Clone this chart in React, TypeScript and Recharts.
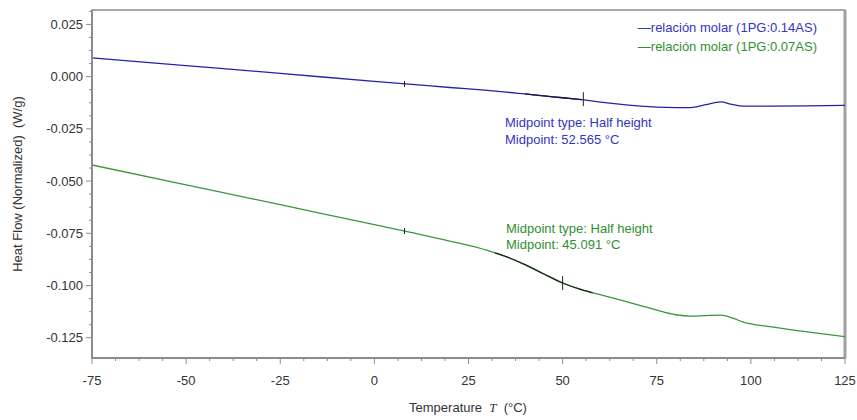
import React from "react";
import {
  ComposedChart,
  Line,
  Scatter,
  XAxis,
  YAxis,
  ReferenceArea,
  ReferenceLine,
} from "recharts";

const temps = [-75, -50, -25, 0, 10, 20, 30, 35, 40, 45, 50, 55, 60, 65, 70, 75, 80, 84, 88, 92, 95, 98, 105, 115, 125];
const blueValues = [
  0.009, 0.0053, 0.0016, -0.0023, -0.0037, -0.0052, -0.0066, -0.0074, -0.0083, -0.0092, -0.0101, -0.011, -0.0122,
  -0.0132, -0.014, -0.0146, -0.0148, -0.0148, -0.0134, -0.0121, -0.0133, -0.0141, -0.0141, -0.014, -0.0138,
];
const greenValues = [
  -0.0423, -0.0518, -0.0613, -0.0709, -0.0747, -0.0787, -0.0832, -0.0862, -0.09, -0.0945, -0.0988, -0.102, -0.1044,
  -0.1068, -0.1093, -0.1118, -0.114, -0.1147, -0.1144, -0.1142, -0.1155, -0.1175, -0.1197, -0.1222, -0.1245,
];

// analysed region drawn in black
const blueFitT = [40, 45, 50, 55];
const blueFitV = [-0.0083, -0.0092, -0.0101, -0.011];
const greenFitT = [32, 35, 40, 45, 50, 55, 58];
const greenFitV = [-0.0844, -0.0862, -0.09, -0.0945, -0.0988, -0.102, -0.1035];

// tick marks: onset and midpoint markers
const blueMarks = [
  { t: 8, v: -0.0035, len: 6 },
  { t: 55.5, v: -0.0108, len: 14 },
];
const greenMarks = [
  { t: 8, v: -0.0739, len: 6 },
  { t: 50, v: -0.0988, len: 14 },
];

const xMajor = [-75, -50, -25, 0, 25, 50, 75, 100, 125];
const yMajor = [0.025, 0, -0.025, -0.05, -0.075, -0.1, -0.125];
const xTicks = Array.from({ length: 33 }, (_, i) => -75 + i * 6.25);
const yTicks = Array.from({ length: 26 }, (_, i) => 0.03125 - i * 0.00625);

const seriesNames = ["relación molar (1PG:0.14AS)", "relación molar (1PG:0.07AS)"];

const X_MIN = -75;
const X_MAX = 125;
const Y_MIN = -0.1347;
const Y_MAX = 0.0319;

const BLUE = "#2323a8";
const GREEN = "#3a963a";
const BLUE_TEXT = "#3434c4";
const GREEN_TEXT = "#2f8f2f";
const AXIS = "#8c8c8c";
const FONT = "'Liberation Sans', Arial, sans-serif";

const data = temps.map((t, i) => ({ t, blue: blueValues[i], green: greenValues[i] }));
const blueFit = blueFitT.map((t, i) => ({ t, v: blueFitV[i] }));
const greenFit = greenFitT.map((t, i) => ({ t, v: greenFitV[i] }));

const isMajor = (list: number[], v: number) => list.some((m) => Math.abs(m - v) < 1e-6);

function TickMark(props: any) {
  const { cx, cy, payload } = props;
  const h = (payload?.len ?? 6) / 2;
  return <line x1={cx} x2={cx} y1={cy - h} y2={cy + h} stroke="#222" strokeWidth={1} />;
}

function XTick(props: any) {
  const { x, y, payload } = props;
  const major = isMajor(xMajor, payload.value);
  return (
    <g>
      <line x1={x} x2={x} y1={y} y2={y + (major ? 6 : 3)} stroke={AXIS} />
      {major && (
        <text x={x} y={y + 27} textAnchor="middle" fontSize={13} fill="#333" fontFamily={FONT}>
          {payload.value}
        </text>
      )}
    </g>
  );
}

function YTick(props: any) {
  const { x, y, payload } = props;
  const major = isMajor(yMajor, payload.value);
  const v = payload.value;
  const s = Math.abs(v) < 1e-9 ? "0.000" : (v < 0 ? "-" : "") + Math.abs(v).toFixed(3);
  return (
    <g>
      <line x1={x} x2={x - (major ? 6 : 3)} y1={y} y2={y} stroke={AXIS} />
      {major && (
        <text x={x - 9} y={y + 4.5} textAnchor="end" fontSize={13} fill="#333" fontFamily={FONT}>
          {s}
        </text>
      )}
    </g>
  );
}

export default function App() {
  return (
    <div style={{ position: "absolute", left: 0, top: 0, width: 857, height: 420, background: "#fff" }}>
      <ComposedChart width={857} height={420} margin={{ top: 10, right: 12, left: 0, bottom: 0 }} data={data}>
        <XAxis
          dataKey="t"
          type="number"
          domain={[X_MIN, X_MAX]}
          ticks={xTicks}
          interval={0}
          tickSize={0}
          tickMargin={0}
          tick={<XTick />}
          tickLine={false}
          axisLine={{ stroke: AXIS, strokeWidth: 2 }}
          height={62}
          allowDataOverflow
        />
        <YAxis
          type="number"
          domain={[Y_MIN, Y_MAX]}
          ticks={yTicks}
          interval={0}
          tickSize={0}
          tickMargin={0}
          tick={<YTick />}
          tickLine={false}
          axisLine={{ stroke: AXIS, strokeWidth: 2 }}
          width={92}
          allowDataOverflow
        />
        <ReferenceArea x1={X_MIN} x2={X_MAX} y1={Y_MIN} y2={Y_MAX} fill="none" stroke={AXIS} strokeWidth={1.5} />
        <ReferenceLine x={X_MAX} stroke="#a0a0a0" strokeWidth={3} />
        <Line
          type="monotone"
          dataKey="blue"
          stroke={BLUE}
          strokeWidth={1.3}
          dot={false}
          name={seriesNames[0]}
          isAnimationActive={false}
        />
        <Line
          type="monotone"
          dataKey="green"
          stroke={GREEN}
          strokeWidth={1.3}
          dot={false}
          name={seriesNames[1]}
          isAnimationActive={false}
        />
        <Line
          data={blueFit}
          type="monotone"
          dataKey="v"
          stroke="#1a1a40"
          strokeWidth={1.3}
          dot={false}
          isAnimationActive={false}
        />
        <Line
          data={greenFit}
          type="monotone"
          dataKey="v"
          stroke="#1c2a1c"
          strokeWidth={1.3}
          dot={false}
          isAnimationActive={false}
        />
        <Scatter data={blueMarks} dataKey="v" shape={<TickMark />} isAnimationActive={false} />
        <Scatter data={greenMarks} dataKey="v" shape={<TickMark />} isAnimationActive={false} />
      </ComposedChart>
      <div
        style={{
          position: "absolute",
          right: 40,
          top: 18,
          fontFamily: FONT,
          fontSize: 13,
          lineHeight: "19px",
          textAlign: "right",
          whiteSpace: "nowrap",
        }}
      >
        <div style={{ color: BLUE_TEXT }}>—{seriesNames[0]}</div>
        <div style={{ color: GREEN_TEXT }}>—{seriesNames[1]}</div>
      </div>
      <div
        style={{
          position: "absolute",
          left: 505,
          top: 114,
          fontFamily: FONT,
          fontSize: 13,
          lineHeight: "17px",
          color: BLUE_TEXT,
          whiteSpace: "nowrap",
        }}
      >
        <div>Midpoint type: Half height</div>
        <div>Midpoint: 52.565 °C</div>
      </div>
      <div
        style={{
          position: "absolute",
          left: 506,
          top: 221,
          fontFamily: FONT,
          fontSize: 13,
          lineHeight: "16px",
          color: GREEN_TEXT,
          whiteSpace: "nowrap",
        }}
      >
        <div>Midpoint type: Half height</div>
        <div>Midpoint: 45.091 °C</div>
      </div>
      <div
        style={{
          position: "absolute",
          left: 17,
          top: 184,
          transform: "translate(-50%, -50%) rotate(-90deg)",
          fontFamily: FONT,
          fontSize: 13,
          color: "#333",
          whiteSpace: "pre",
        }}
      >
        Heat Flow (Normalized)  (W/g)
      </div>
      <div
        style={{
          position: "absolute",
          left: 468,
          top: 408,
          transform: "translate(-50%, -50%)",
          fontFamily: FONT,
          fontSize: 13,
          color: "#333",
          whiteSpace: "pre",
        }}
      >
        Temperature  <i style={{ fontFamily: "'Liberation Serif', serif" }}>T</i>  (°C)
      </div>
    </div>
  );
}
